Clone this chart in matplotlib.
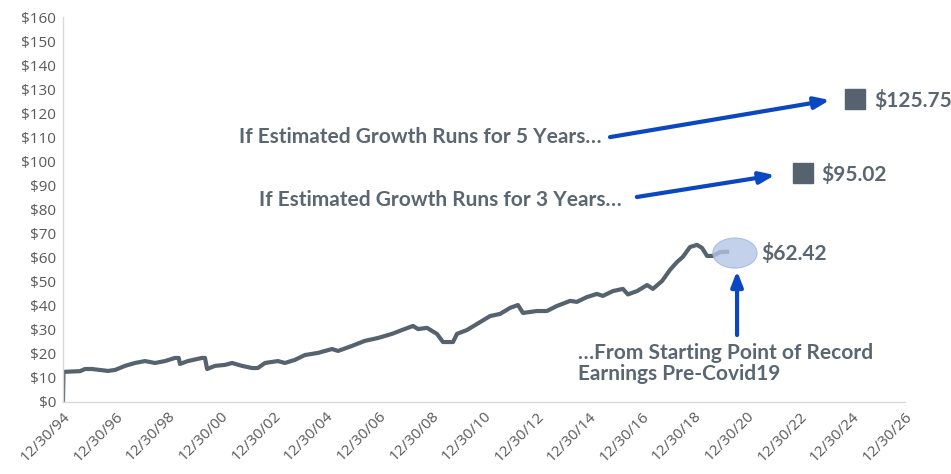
import matplotlib.pyplot as plt
from matplotlib.patches import Ellipse

# Earnings per share history (decimal year, $)
years = [1995.00, 1995.02, 1995.65, 1995.84, 1996.10, 1996.71, 1996.98, 1997.36, 1997.74,
         1998.12, 1998.50, 1998.88, 1999.26, 1999.40, 1999.45, 1999.75, 2000.29, 2000.40,
         2000.48, 2000.78, 2001.16, 2001.43, 2001.81, 2002.19, 2002.41, 2002.68, 2003.17,
         2003.44, 2003.82, 2004.20, 2004.70, 2005.23, 2005.46, 2005.99, 2006.48, 2006.98,
         2007.51, 2007.89, 2008.31, 2008.50, 2008.84, 2009.22, 2009.45, 2009.83, 2009.98,
         2010.36, 2010.74, 2011.24, 2011.62, 2012.00, 2012.30, 2012.49, 2013.02, 2013.40,
         2013.78, 2014.28, 2014.54, 2014.92, 2015.30, 2015.53, 2015.91, 2016.29, 2016.48,
         2016.83, 2017.21, 2017.43, 2017.78, 2018.08, 2018.35, 2018.57, 2018.84, 2019.11,
         2019.30, 2019.49, 2019.71, 2019.98, 2020.25]
eps = [0.0, 12.5, 12.8, 13.7, 13.7, 12.9, 13.3, 15.0, 16.2,
       17.0, 16.2, 17.0, 18.3, 18.3, 15.8, 17.0, 18.3, 18.3,
       13.7, 15.0, 15.4, 16.2, 15.0, 14.1, 14.1, 16.2, 17.0,
       16.2, 17.5, 19.5, 20.4, 22.0, 21.2, 23.3, 25.4, 26.6,
       28.3, 29.9, 31.6, 30.3, 30.8, 28.3, 24.9, 24.9, 28.3,
       29.9, 32.4, 35.7, 36.6, 39.1, 40.3, 37.0, 37.8, 37.8,
       39.9, 42.0, 41.6, 43.6, 44.9, 44.1, 46.1, 47.0, 44.7,
       46.1, 48.6, 47.0, 50.3, 54.9, 58.2, 60.3, 64.4, 65.3,
       64.0, 60.7, 60.7, 62.3, 62.42]

# Projected values after 3 and 5 years of estimated growth
proj_years = [2023.12, 2025.12]
proj_values = [95.02, 125.75]
start_value = 62.42

tick_years = list(range(1995, 2028, 2))
tick_labels = ["12/30/94", "12/30/96", "12/30/98", "12/30/00", "12/30/02", "12/30/04",
               "12/30/06", "12/30/08", "12/30/10", "12/30/12", "12/30/14", "12/30/16",
               "12/30/18", "12/30/20", "12/30/22", "12/30/24", "12/30/26"]
y_ticks = list(range(0, 161, 10))

gray = "#56626d"
text_gray = "#5b6670"
blue = "#0b47c1"

fig = plt.figure(figsize=(9.51, 4.74), dpi=100)
ax = fig.add_axes([0.0662, 0.152, 0.885, 0.812])

ax.plot(years, eps, color=gray, lw=3, solid_joinstyle="round")
ax.plot(proj_years, proj_values, ls="none", marker="s", ms=14, color=gray)

ax.add_patch(Ellipse((2020.55, 61.9), 1.68, 12.5, facecolor="#b4c6e7", edgecolor="#9fb5dd",
                     lw=0.8, alpha=0.8, zorder=3))

bold = dict(family="Lato", fontweight="bold", color=text_gray)
ax.text(2021.55, 61.9, f"${start_value:.2f}", fontsize=15, va="center", ha="left", **bold)
for yr, val in zip(proj_years, proj_values):
    ax.text(yr + 0.72, val - 0.5, f"${val:.2f}", fontsize=15, va="center", ha="left", **bold)

ax.text(2015.49, 110.1, "If Estimated Growth Runs for 5 Years\u2026", fontsize=15,
        ha="right", va="center", **bold)
ax.text(2016.25, 84.0, "If Estimated Growth Runs for 3 Years\u2026", fontsize=15,
        ha="right", va="center", **bold)
ax.text(2014.58, 16.0, "\u2026From Starting Point of Record\nEarnings Pre-Covid19", fontsize=15,
        ha="left", va="center", linespacing=1.08, **bold)

arrow = dict(arrowstyle="-|>,head_length=0.9,head_width=0.35", color=blue, lw=3, shrinkA=0, shrinkB=0)
ax.annotate("", xy=(2024.16, 125.5), xytext=(2015.80, 110.1), arrowprops=arrow)
ax.annotate("", xy=(2022.07, 94.3), xytext=(2016.82, 85.2), arrowprops=arrow)
ax.annotate("", xy=(2020.63, 54.5), xytext=(2020.63, 27.8), arrowprops=arrow)

ax.set_xlim(1995, 2027)
ax.set_ylim(0, 160)
ax.set_xticks(tick_years)
ax.set_xticklabels(tick_labels, rotation=45, ha="right", rotation_mode="anchor")
ax.set_yticks(y_ticks)
ax.set_yticklabels([f"${v}" for v in y_ticks])
ax.tick_params(length=0, labelsize=11, colors="#595959", pad=5)
for lbl in ax.get_xticklabels() + ax.get_yticklabels():
    lbl.set_family("Open Sans")
for side in ("top", "right"):
    ax.spines[side].set_visible(False)
for side in ("left", "bottom"):
    ax.spines[side].set_color("#d9d9d9")
    ax.spines[side].set_linewidth(1)

fig.savefig("out.png", dpi=100)
